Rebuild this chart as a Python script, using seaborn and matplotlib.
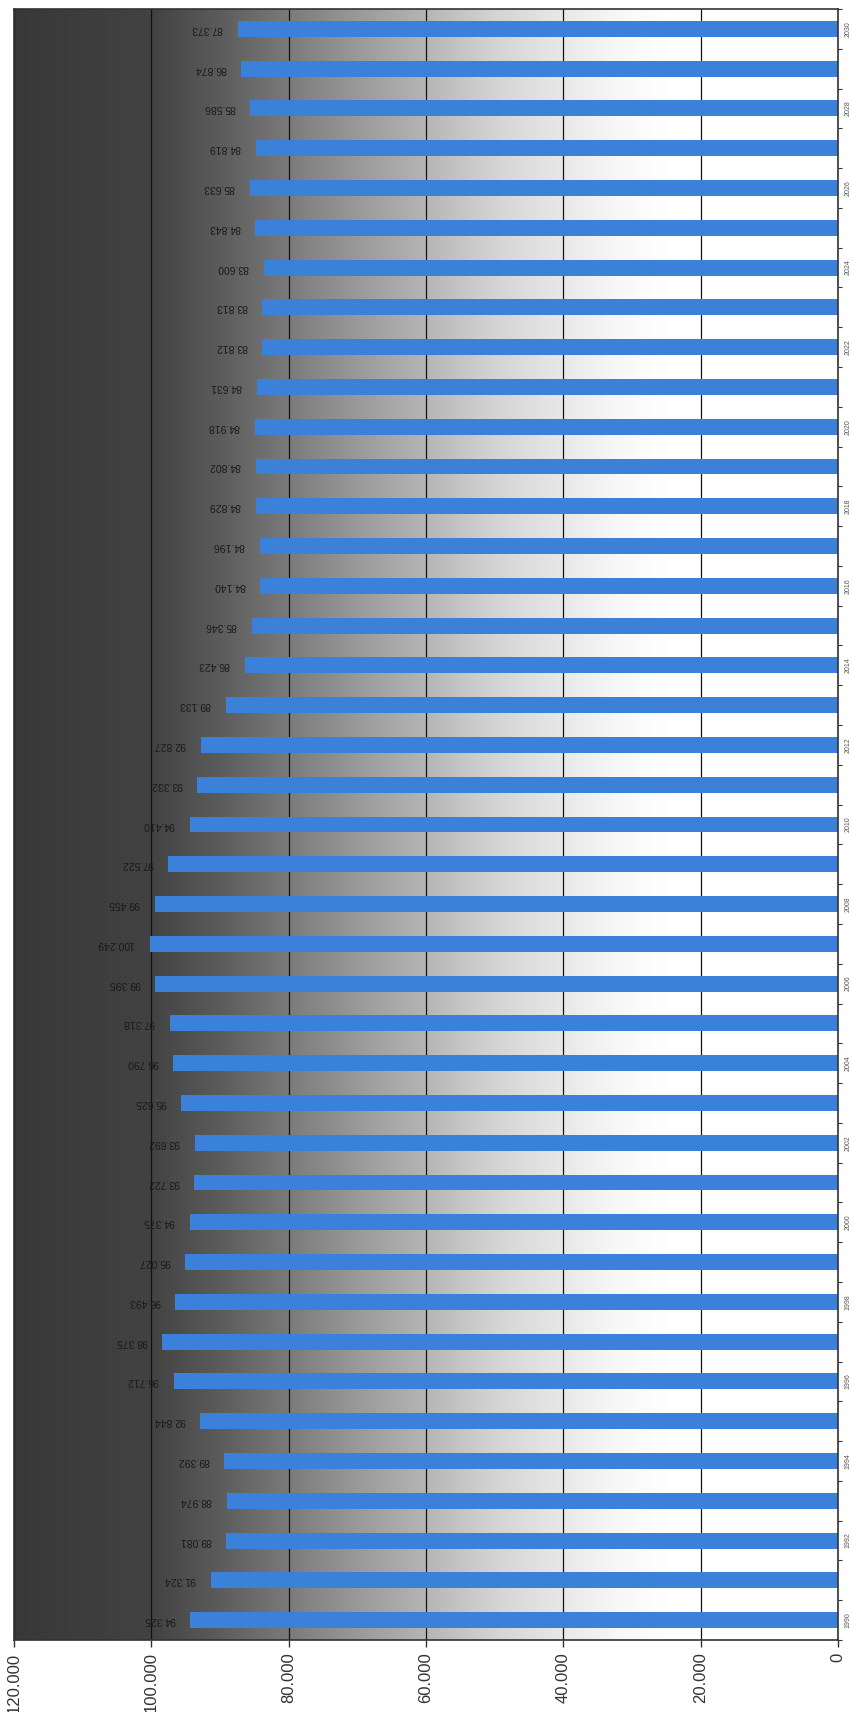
import numpy as np
import pandas as pd
import matplotlib
matplotlib.use("Agg")
import matplotlib.pyplot as plt
from matplotlib.ticker import FixedLocator
import seaborn as sns

years = list(range(1990, 2031))
values = [94325, 91324, 89081, 88974, 89392, 92844, 96712, 98375, 96493, 95027,
          94375, 93722, 93692, 95625, 96790, 97318, 99395, 100249, 99455, 97522,
          94410, 93332, 92827, 89133, 86423, 85346, 84140, 84196, 84829, 84802,
          84918, 84631, 83812, 83813, 83600, 84843, 85633, 84819, 85586, 86874,
          87373]
value_ticks = [0, 20000, 40000, 60000, 80000, 100000, 120000]
value_tick_labels = ["0", "20.000", "40.000", "60.000", "80.000", "100.000", "120.000"]
year_labels = [str(y) if (y % 2 == 0) else "" for y in years]

df = pd.DataFrame({"year": [str(y) for y in years], "value": values})
order = [str(y) for y in years][::-1]

sns.set_theme(style="white")
plt.rcParams["font.family"] = ["Liberation Sans", "DejaVu Sans"]

W, H = 853, 1712
fig = plt.figure(figsize=(W / 100, H / 100), dpi=100)
ax = fig.add_axes([14 / W, 72 / H, (838 - 14) / W, (1640 - 9) / H])

# gradient background (value-dependent gray)
stops_v = [0, 25, 32, 40, 50, 60, 70, 80, 90, 100, 120]
stops_g = [1.0, 1.0, 0.97, 0.91, 0.83, 0.71, 0.60, 0.48, 0.36, 0.26, 0.22]
xs = np.linspace(0, 120, 600)
g = np.interp(xs, stops_v, stops_g)
img = np.repeat(g[None, :, None], 3, axis=2)
ax.imshow(img, extent=(0, 120000, 40.5, -0.5), aspect="auto", zorder=0,
          interpolation="bilinear")

sns.barplot(data=df, x="value", y="year", order=order, orient="h",
            color="#3b80d9", saturation=1, width=0.4, ax=ax, zorder=2,
            linewidth=0, edgecolor="none")

ax.set_xlim(120000, 0)
ax.set_ylim(40.5, -0.5)
ax.set_xlabel("")
ax.set_ylabel("")

ax.set_axisbelow(True)
ax.xaxis.set_major_locator(FixedLocator(value_ticks))
ax.set_xticklabels(value_tick_labels, rotation=90, fontsize=12, color="#333333",
                   va="top", ha="center")
ax.grid(axis="x", color="#111111", lw=0.9, zorder=1)
ax.grid(axis="y", visible=False)
ax.tick_params(axis="x", bottom=True, length=5, width=1, color="#333333", pad=4)

# value labels (upside down, as in the rotated original)
for i, (yr, v) in enumerate(zip(order, df.set_index("year").loc[order, "value"])):
    lab = f"{v:,}".replace(",", ".")
    ax.text(v + 2200, i, lab, rotation=180, ha="right", va="center",
            fontsize=7.5, color="#1a1a1a", zorder=3)

# categories on the right
ax.yaxis.tick_right()
ax.set_yticks(range(len(order)))
ax.set_yticklabels([year_labels[years.index(int(o))] for o in order],
                   rotation=90, fontsize=5, color="#555555", va="center")
ax.tick_params(axis="y", right=True, length=0, pad=5)
ax.set_yticks(np.arange(-0.5, 40.6, 1.0), minor=True)
ax.tick_params(axis="y", which="minor", right=True, length=3, width=0.8, color="#333333")

for s in ax.spines.values():
    s.set_visible(True)
    s.set_color("#333333")
    s.set_linewidth(1.2)

fig.savefig("out.png", dpi=100, facecolor="white")
